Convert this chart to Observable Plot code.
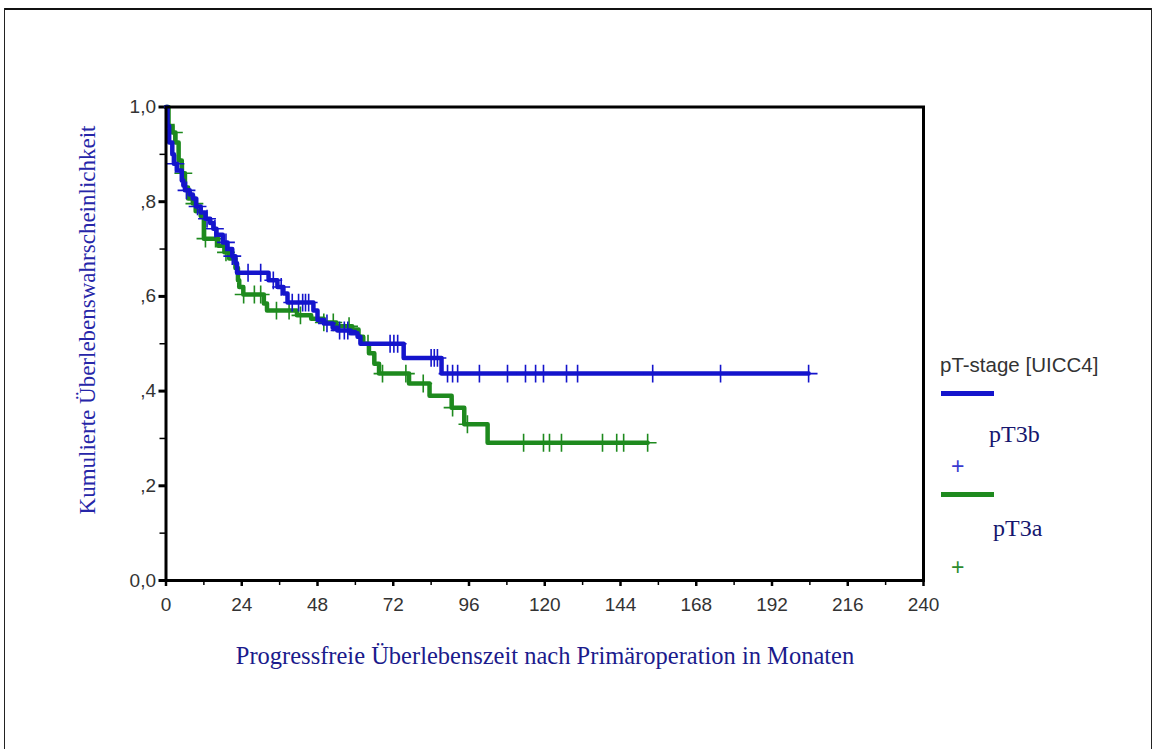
<!DOCTYPE html>
<html>
<head>
<meta charset="utf-8">
<script src="https://cdn.jsdelivr.net/npm/d3@7"></script>
<script src="https://cdn.jsdelivr.net/npm/@observablehq/plot@0.6"></script>
<style>
  html, body { margin: 0; padding: 0; background: #fff; }
  #wrap { position: relative; width: 1155px; height: 749px; overflow: hidden; background: #fff; }
  #chart { position: absolute; left: 0; top: 0; }
  .frameTop { position: absolute; left: 4px; top: 8px; width: 1148px; height: 2px; background: #111; }
  .frameLeft { position: absolute; left: 4px; top: 8px; width: 1px; height: 741px; background: #222; }
  .frameRight { position: absolute; left: 1151px; top: 8px; width: 1px; height: 741px; background: #222; }
  .ser { position: absolute; font-family: "Liberation Serif", "Times New Roman", serif; color: #1b1b8c; white-space: nowrap; }
  .sans { position: absolute; font-family: "Liberation Sans", Arial, sans-serif; color: #333; white-space: nowrap; }
  .swatch { position: absolute; height: 5px; width: 53px; }
</style>
</head>
<body>
<div id="wrap">
  <div class="frameTop"></div>
  <div class="frameLeft"></div>
  <div class="frameRight"></div>
  <div id="chart"></div>
</div>
<script>
// ---- Data ----
const legendTitle = "pT-stage [UICC4]";
const groups = ["pT3b", "pT3a"];
const groupColors = ["#1414cc", "#1e8a1e"];

const xTicks = [0, 24, 48, 72, 96, 120, 144, 168, 192, 216, 240];
const xMinorTicks = [12, 36, 60, 84, 108, 132, 156, 180, 204, 228];
const yTicks = [0, 0.2, 0.4, 0.6, 0.8, 1.0];
const yTickLabels = ["0,0", ",2", ",4", ",6", ",8", "1,0"];
const yMinorTicks = [0.1, 0.3, 0.5, 0.7, 0.9];

const xTitle = "Progressfreie Überlebenszeit nach Primäroperation in Monaten";
const yTitle = "Kumulierte Überlebenswahrscheinlichkeit";

// pT3b: step times (months) and survival after each step
const pT3bTimes = [0, 0.5, 1, 2, 2.5, 3.5, 5, 5.5, 6, 7.5, 8.5, 9.5, 11, 12.5, 14, 15, 16, 18, 19.5, 21, 22, 22.5,
  32.5, 35.3, 37.2, 38.5, 46.7, 48, 50, 52.8, 54.3, 58.5, 60.7, 61.6, 75.3, 87.3, 203.6];
const pT3bSurv = [1.0, 0.96, 0.925, 0.90, 0.88, 0.866, 0.845, 0.834, 0.824, 0.815, 0.807, 0.79, 0.777, 0.764, 0.755, 0.743, 0.73, 0.714, 0.70, 0.685, 0.67, 0.65,
  0.634, 0.62, 0.606, 0.587, 0.57, 0.55, 0.543, 0.534, 0.528, 0.522, 0.515, 0.50, 0.47, 0.437, 0.437];
const pT3bCensored = [3, 6.5, 10, 13, 15.5, 19, 21, 26, 30, 34, 36.5, 40, 42, 43.3, 44.2, 45.2, 51, 55, 56.5, 57.6,
  71, 72.2, 73.4, 84, 85, 86, 89.2, 90.8, 92.4, 99.3, 108.2, 113.9, 117.1, 119.6, 126.9, 130.4, 154.2, 175.7, 203.6];

// pT3a
const pT3aTimes = [0, 0.8, 2, 3, 4, 5, 6, 7, 8.5, 9.5, 11, 12, 16.5, 18.5, 20, 22, 22.8, 23.2, 24.5, 31, 32,
  41.5, 46, 50, 54, 59, 61, 62.5, 64.3, 66, 67.5, 77, 83.5, 90.5, 94.5, 101.9, 152.6];
const pT3aSurv = [1.0, 0.96, 0.946, 0.925, 0.887, 0.86, 0.83, 0.807, 0.796, 0.78, 0.77, 0.722, 0.707, 0.693, 0.68, 0.66, 0.634, 0.62, 0.604, 0.585, 0.57,
  0.56, 0.553, 0.545, 0.537, 0.53, 0.515, 0.50, 0.48, 0.458, 0.437, 0.416, 0.39, 0.365, 0.33, 0.291, 0.291];
const pT3aCensored = [2.5, 5.5, 9, 12.5, 15.7, 19, 24.6, 28, 30, 35, 39, 42.6, 50, 53, 58, 64, 68.6, 76, 81.5,
  90.8, 95.5, 113.3, 119.6, 121.5, 125.3, 138.3, 142.8, 145, 152.6];

// ---- Build tables ----
function steps(times, surv, group) {
  return times.map((t, i) => ({t, s: surv[i], group}));
}
function levelAt(times, surv, t) {
  let v = surv[0];
  for (let i = 0; i < times.length; i++) if (times[i] <= t) v = surv[i];
  return v;
}
const lineB = steps(pT3bTimes, pT3bSurv, "pT3b");
const lineA = steps(pT3aTimes, pT3aSurv, "pT3a");
const censB = pT3bCensored.map(t => ({t, s: levelAt(pT3bTimes, pT3bSurv, t)}));
const censA = pT3aCensored.map(t => ({t, s: levelAt(pT3aTimes, pT3aSurv, t)}));

const chart = Plot.plot({
  width: 1155,
  height: 749,
  marginLeft: 165.5,
  marginRight: 232,
  marginTop: 106.5,
  marginBottom: 169,
  style: {fontFamily: "'Liberation Sans', Arial, sans-serif", fontSize: "18px", background: "transparent", color: "black", overflow: "visible"},
  x: {domain: [0, 240]},
  y: {domain: [0, 1]},
  marks: [
    Plot.axisX({ticks: xMinorTicks, tickSize: 5, tickFormat: () => "", strokeWidth: 1.5, label: null}),
    Plot.axisX({ticks: xTicks, tickSize: 6, tickPadding: 11, strokeWidth: 2.5, fill: "#333", label: null, fontSize: 19}),
    Plot.axisY({ticks: yMinorTicks, tickSize: 6, tickFormat: () => "", strokeWidth: 1.5, label: null}),
    Plot.axisY({ticks: yTicks, tickSize: 7, tickPadding: 3, strokeWidth: 3, fill: "#333", label: null, fontSize: 19,
      tickFormat: d => yTickLabels[yTicks.findIndex(v => Math.abs(v - d) < 1e-9)]}),
    Plot.line(lineA, {x: "t", y: "s", curve: "step-after", stroke: groupColors[1], strokeWidth: 4.5}),
    Plot.dot(censA, {x: "t", y: "s", symbol: "plus", r: 5.8, stroke: groupColors[1], strokeWidth: 1.6}),
    Plot.line(lineB, {x: "t", y: "s", curve: "step-after", stroke: groupColors[0], strokeWidth: 4.5}),
    Plot.dot(censB, {x: "t", y: "s", symbol: "plus", r: 5.8, stroke: groupColors[0], strokeWidth: 1.6}),
    Plot.frame({stroke: "black", strokeWidth: 3})
  ]
});
document.getElementById("chart").appendChild(chart);

// ---- Titles & legend (HTML) ----
const wrap = document.getElementById("wrap");
function add(cls, text, css) {
  const d = document.createElement("div");
  d.className = cls;
  d.textContent = text;
  Object.assign(d.style, css);
  wrap.appendChild(d);
  return d;
}
add("ser", xTitle, {left: "545px", top: "642px", fontSize: "24.5px", transform: "translateX(-50%)"});
add("ser", yTitle, {left: "88px", top: "320px", fontSize: "23px", transform: "translate(-50%, -50%) rotate(-90deg)", color: "#2626a8"});
add("sans", legendTitle, {left: "940px", top: "353px", fontSize: "20.5px"});
const sw1 = document.createElement("div"); sw1.className = "swatch";
Object.assign(sw1.style, {left: "941px", top: "391px", background: groupColors[0]}); wrap.appendChild(sw1);
add("ser", groups[0], {left: "989px", top: "421px", fontSize: "24px", color: "#16166e"});
add("sans", "+", {left: "951px", top: "453px", fontSize: "23px", color: "#3a3ad0"});
const sw2 = document.createElement("div"); sw2.className = "swatch";
Object.assign(sw2.style, {left: "941px", top: "492px", background: groupColors[1]}); wrap.appendChild(sw2);
add("ser", groups[1], {left: "993px", top: "515px", fontSize: "24px", color: "#16166e"});
add("sans", "+", {left: "951px", top: "554px", fontSize: "23px", color: "#2e8b2e"});
</script>
</body>
</html>
